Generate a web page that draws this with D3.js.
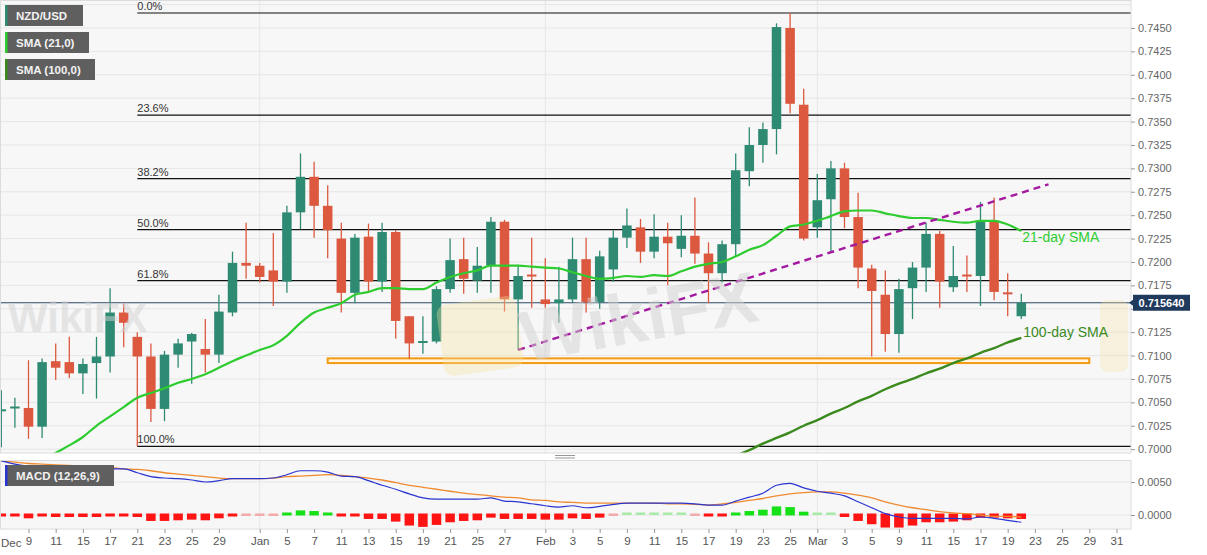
<!DOCTYPE html>
<html><head><meta charset="utf-8">
<script src="https://cdn.jsdelivr.net/npm/d3@7/dist/d3.min.js"></script>
<style>
html,body{margin:0;padding:0;background:#fff;}
svg{display:block;font-family:"Liberation Sans",Arial,sans-serif;}
</style></head><body>
<svg id="chart" width="1207" height="555"></svg>
<script>
// ---------- DATA ----------
// trading days shown on the time axis (Mon-Fri)
const dates = ["2020-12-07","2020-12-08","2020-12-09","2020-12-10","2020-12-11","2020-12-14","2020-12-15","2020-12-16","2020-12-17","2020-12-18","2020-12-21","2020-12-22","2020-12-23","2020-12-24","2020-12-25","2020-12-28","2020-12-29","2020-12-30","2020-12-31",
"2021-01-01","2021-01-04","2021-01-05","2021-01-06","2021-01-07","2021-01-08","2021-01-11","2021-01-12","2021-01-13","2021-01-14","2021-01-15","2021-01-18","2021-01-19","2021-01-20","2021-01-21","2021-01-22","2021-01-25","2021-01-26","2021-01-27","2021-01-28","2021-01-29",
"2021-02-01","2021-02-02","2021-02-03","2021-02-04","2021-02-05","2021-02-08","2021-02-09","2021-02-10","2021-02-11","2021-02-12","2021-02-15","2021-02-16","2021-02-17","2021-02-18","2021-02-19","2021-02-22","2021-02-23","2021-02-24","2021-02-25","2021-02-26",
"2021-03-01","2021-03-02","2021-03-03","2021-03-04","2021-03-05","2021-03-08","2021-03-09","2021-03-10","2021-03-11","2021-03-12","2021-03-15","2021-03-16","2021-03-17","2021-03-18","2021-03-19","2021-03-22","2021-03-23","2021-03-24","2021-03-25","2021-03-26","2021-03-29","2021-03-30","2021-03-31"];

// daily candles, 2020-12-07 .. 2021-03-22
const open = [0.7041,0.7044,0.7044,0.7024,0.7094,0.7093,0.7081,0.7092,0.7099,0.7146,
0.7120,0.7099,0.7043,0.7101,0.7115,0.7107,0.7101,0.7146,0.7199,0.7196,
0.7191,0.7179,0.7253,0.7291,0.7260,0.7225,0.7167,0.7227,0.7179,0.7232,
0.7142,0.7114,0.7115,0.7171,0.7203,0.7180,0.7196,0.7243,0.7160,0.7186,
0.7160,0.7156,0.7160,0.7203,0.7157,0.7192,0.7226,0.7237,0.7211,0.7227,
0.7214,0.7228,0.7209,0.7188,0.7219,0.7297,0.7325,0.7342,0.7450,0.7368,
0.7237,0.7267,0.7300,0.7248,0.7193,0.7165,0.7123,0.7172,0.7194,0.7230,
0.7173,0.7186,0.7185,0.7244,0.7167,0.7142];
const high = [0.7063,0.7055,0.7095,0.7097,0.7113,0.7120,0.7097,0.7120,0.7172,0.7156,
0.7125,0.7113,0.7105,0.7118,0.7124,0.7139,0.7165,0.7211,0.7242,0.7199,
0.7231,0.7260,0.7316,0.7307,0.7282,0.7242,0.7230,0.7241,0.7242,0.7234,
0.7142,0.7142,0.7174,0.7225,0.7226,0.7216,0.7248,0.7245,0.7197,0.7226,
0.7204,0.7195,0.7226,0.7226,0.7212,0.7234,0.7257,0.7246,0.7251,0.7242,
0.7250,0.7269,0.7221,0.7223,0.7316,0.7344,0.7349,0.7455,0.7466,0.7385,
0.7294,0.7308,0.7306,0.7274,0.7197,0.7191,0.7182,0.7200,0.7242,0.7233,
0.7217,0.7207,0.7264,0.7269,0.7188,0.7166];
const low = [0.7002,0.7023,0.7011,0.7012,0.7074,0.7076,0.7059,0.7054,0.7082,0.7109,
0.7003,0.7029,0.7030,0.7087,0.7070,0.7082,0.7092,0.7142,0.7182,0.7178,
0.7153,0.7167,0.7235,0.7226,0.7204,0.7146,0.7156,0.7167,0.7168,0.7118,
0.7097,0.7102,0.7113,0.7167,0.7166,0.7167,0.7167,0.7147,0.7106,0.7151,
0.7151,0.7135,0.7156,0.7146,0.7150,0.7179,0.7215,0.7199,0.7204,0.7175,
0.7205,0.7198,0.7156,0.7178,0.7205,0.7281,0.7306,0.7315,0.7359,0.7223,
0.7226,0.7210,0.7236,0.7172,0.7099,0.7104,0.7103,0.7139,0.7168,0.7151,
0.7168,0.7168,0.7153,0.7159,0.7142,0.7139];
const close = [0.7042,0.7045,0.7024,0.7093,0.7087,0.7081,0.7091,0.7099,0.7146,0.7135,
0.7099,0.7043,0.7101,0.7113,0.7123,0.7101,0.7147,0.7199,0.7196,0.7184,
0.7179,0.7253,0.7291,0.7260,0.7234,0.7167,0.7226,0.7179,0.7232,0.7137,
0.7113,0.7115,0.7171,0.7202,0.7182,0.7196,0.7243,0.7160,0.7185,0.7185,
0.7155,0.7160,0.7203,0.7157,0.7206,0.7226,0.7239,0.7211,0.7227,0.7220,
0.7228,0.7209,0.7188,0.7219,0.7298,0.7325,0.7342,0.7451,0.7369,0.7225,
0.7266,0.7300,0.7248,0.7194,0.7169,0.7123,0.7171,0.7194,0.7230,0.7179,
0.7185,0.7185,0.7243,0.7168,0.7166,0.71564];

// SMA(21), same days as the candles
const sma21 = [0.6966,0.6973,0.6980,0.6987,0.6996,0.7004,0.7013,0.7025,0.7035,0.7045,
0.7055,0.7060,0.7065,0.7071,0.7075,0.7080,0.7087,0.7094,0.7100,0.7106,
0.7111,0.7121,0.7135,0.7146,0.7151,0.7156,0.7165,0.7168,0.7172,0.7172,
0.7171,0.7171,0.7178,0.7184,0.7188,0.7191,0.7196,0.7196,0.7196,0.7195,
0.7194,0.7193,0.7189,0.7185,0.7182,0.7183,0.7185,0.7184,0.7186,0.7185,
0.7190,0.7195,0.7198,0.7200,0.7206,0.7213,0.7218,0.7228,0.7238,0.7240,
0.7244,0.7249,0.7254,0.7255,0.7255,0.7252,0.7249,0.7247,0.7247,0.7245,
0.7243,0.7242,0.7244,0.7244,0.7240,0.7233];
// SMA(100), visible part, from 2021-02-19 .. 2021-03-22
const sma100Start = "2021-02-19";
const sma100 = [0.6993,0.6999,0.7006,0.7012,0.7018,0.7025,0.7031,0.7038,0.7044,0.7051,0.7057,
0.7064,0.7070,0.7075,0.7081,0.7086,0.7092,0.7097,0.7103,0.7108,0.7114,0.7119];

// MACD(12,26,9), same days as the candles
const macd = [0.0082,0.0077,0.0074,0.0073,0.0073,0.0071,0.0071,0.0071,0.0070,0.0070,
0.0064,0.0058,0.0056,0.0055,0.0053,0.0050,0.0052,0.0055,0.0055,0.0055,
0.0056,0.0061,0.0067,0.0067,0.0065,0.0059,0.0058,0.0052,0.0045,0.0039,
0.0032,0.0026,0.0024,0.0024,0.0024,0.0024,0.0026,0.0021,0.0020,0.0017,
0.0014,0.0012,0.0014,0.0011,0.0013,0.0016,0.0018,0.0018,0.0018,0.0018,
0.0018,0.0017,0.0015,0.0015,0.0021,0.0027,0.0033,0.0045,0.0048,0.0041,
0.0036,0.0033,0.0029,0.0020,0.0011,0.0002,-0.0003,-0.0005,-0.0005,-0.0005,
-0.0005,-0.0006,-0.0003,-0.0005,-0.0008,-0.0011];
const signal = [0.0082,0.0080,0.0078,0.0077,0.0076,0.0075,0.0074,0.0073,0.0072,0.0070,
0.0069,0.0067,0.0064,0.0062,0.0060,0.0058,0.0056,0.0055,0.0055,0.0055,
0.0056,0.0058,0.0059,0.0060,0.0061,0.0060,0.0058,0.0056,0.0053,0.0049,
0.0045,0.0042,0.0039,0.0036,0.0033,0.0031,0.0029,0.0027,0.0026,0.0023,
0.0022,0.0020,0.0019,0.0018,0.0018,0.0018,0.0018,0.0018,0.0018,0.0017,
0.0017,0.0016,0.0015,0.0017,0.0019,0.0022,0.0025,0.0029,0.0032,0.0034,
0.0035,0.0035,0.0033,0.0030,0.0026,0.0020,0.0015,0.0011,0.0008,0.0005,
0.0003,0.0002,0.0000,-0.0002,-0.0002,-0.0003];
const hist = [-0.0001,-0.0002,-0.0005,-0.0002,-0.0003,-0.0003,-0.0003,-0.0003,-0.0001,-0.0001,
-0.0003,-0.0009,-0.0009,-0.0008,-0.0007,-0.0008,-0.0005,-0.0002,-0.00005,-0.00005,
-0.00005,0.0001,0.0007,0.0006,0.0002,-0.0002,-0.0002,-0.0006,-0.0006,-0.0010,
-0.0016,-0.0018,-0.0015,-0.0011,-0.0009,-0.0008,-0.0004,-0.0006,-0.0006,-0.0006,
-0.0007,-0.0007,-0.0005,-0.0006,-0.0004,-0.00005,0.00005,0.00005,0.00005,0.00005,
0.00005,-0.00005,-0.0002,-0.0002,0.0003,0.0006,0.0008,0.0013,0.0012,0.0005,
0.00005,0.00005,-0.0003,-0.0009,-0.0014,-0.0019,-0.0019,-0.0016,-0.0011,-0.0011,
-0.0010,-0.0008,-0.0004,-0.0004,-0.0005,-0.0006];

// Fibonacci retracement (swing low 2020-12-21 -> swing high 2021-02-25)
const fibStartDate = "2020-12-21";
const fibLabels = ["0.0%","23.6%","38.2%","50.0%","61.8%","100.0%"];
const fibValues = [0.7466,0.7357,0.7289,0.72345,0.7180,0.7003];

// annotations
const trendDates = ["2021-01-28","2021-03-24"];
const trendValues = [0.7106,0.7283];
const zoneDates = ["2021-01-08","2021-03-29"];
const zoneValues = [0.7092,0.7097];
const lastPrice = 0.715640;

// axes
const priceTicks = [0.7000,0.7025,0.7050,0.7075,0.7100,0.7125,0.7150,0.7175,0.7200,0.7225,0.7250,0.7275,0.7300,0.7325,0.7350,0.7375,0.7400,0.7425,0.7450];
const macdTicks = [0.0000,0.0050];
const tickDates = ["2020-12-09","2020-12-11","2020-12-15","2020-12-17","2020-12-21","2020-12-23","2020-12-25","2020-12-29","2021-01-01","2021-01-05","2021-01-07","2021-01-11","2021-01-13","2021-01-15","2021-01-19","2021-01-21","2021-01-25","2021-01-27","2021-02-01","2021-02-03","2021-02-05","2021-02-09","2021-02-11","2021-02-15","2021-02-17","2021-02-19","2021-02-23","2021-02-25","2021-03-01","2021-03-03","2021-03-05","2021-03-09","2021-03-11","2021-03-15","2021-03-17","2021-03-19","2021-03-23","2021-03-25","2021-03-29","2021-03-31"];
const tickLabels = ["9","11","15","17","21","23","25","29","Jan","5","7","11","13","15","19","21","25","27","Feb","3","5","9","11","15","17","19","23","25","Mar","3","5","9","11","15","17","19","23","25","29","31"];
const monthStarts = ["2021-01-01","2021-02-01","2021-03-01"];
const firstMonthLabel = "Dec";
const legendLabels = ["NZD/USD","SMA (21,0)","SMA (100,0)"];
const macdLabel = "MACD (12,26,9)";
const smaTags = ["21-day SMA","100-day SMA"];
const watermark = "WikiFX";

// ---------- LAYOUT ----------
const plotR = 1131, mainT = 0, mainB = 453, macdT = 460, macdB = 529;
const C = {bg:"#f7f7f7", grid:"#e6e6e6", up:"#2f8a74", down:"#dc5940", sma21:"#2fcc2f", sma100:"#3b8a1e",
  fib:"#111", trend:"#a3199f", zone:"#f39a12", price:"#2b4766", macd:"#2a35d0", sig:"#f08a30",
  hUp:"#16e016", hDn:"#ff1414", hUpPale:"#a8eaa8", hDnPale:"#f3aaaa", axis:"#666"};

const svg = d3.select("#chart");
const pos = d => dates.indexOf(d);
const x = d3.scaleLinear().domain([-0.0956, 83.066]).range([0, plotR]);
const yP = d3.scaleLinear().domain([0.69959, 0.74799]).range([mainB, mainT]);
const yM = d3.scaleLinear().domain([-0.00212, 0.00833]).range([macdB, macdT]);

const defs = svg.append("defs");
defs.append("clipPath").attr("id","clipMain").append("rect").attr("x",0).attr("y",mainT).attr("width",plotR).attr("height",mainB-mainT);
defs.append("clipPath").attr("id","clipMacd").append("rect").attr("x",0).attr("y",macdT).attr("width",plotR).attr("height",macdB-macdT);

// backgrounds
svg.append("rect").attr("x",0).attr("y",mainT).attr("width",plotR).attr("height",mainB-mainT).attr("fill",C.bg);
svg.append("rect").attr("x",0).attr("y",macdT).attr("width",plotR).attr("height",macdB-macdT).attr("fill",C.bg);

// grid
const gMain = svg.append("g").attr("clip-path","url(#clipMain)");
gMain.selectAll("line.hg").data(priceTicks.concat([0.7475])).join("line")
  .attr("x1",0).attr("x2",plotR).attr("y1",d=>yP(d)).attr("y2",d=>yP(d)).attr("stroke",C.grid).attr("stroke-width",1);
gMain.selectAll("line.vg").data(monthStarts).join("line")
  .attr("x1",d=>x(pos(d))).attr("x2",d=>x(pos(d))).attr("y1",mainT).attr("y2",mainB).attr("stroke",C.grid);

// watermarks (faint)
const wm = svg.append("g");
wm.append("rect").attr("x",440).attr("y",300).attr("width",80).attr("height",72).attr("rx",10)
  .attr("fill","#f6e2a0").attr("opacity",0.35).attr("transform","rotate(-8,480,336)");
wm.append("rect").attr("x",1100).attr("y",300).attr("width",28).attr("height",72).attr("rx",8)
  .attr("fill","#f6e2a0").attr("opacity",0.3);
wm.append("text").attr("x",525).attr("y",362).attr("font-size",72).attr("font-weight","bold")
  .attr("fill","#d2d2d2").attr("opacity",0.5).attr("transform","rotate(-10,525,362)").text(watermark);
wm.append("text").attr("x",8).attr("y",332).attr("font-size",42).attr("font-weight","bold")
  .attr("fill","#d2d2d2").attr("opacity",0.5).text(watermark);

// orange support zone
gMain.append("rect")
  .attr("x",x(pos(zoneDates[0]))).attr("y",yP(zoneValues[1]))
  .attr("width",x(pos(zoneDates[1]))-x(pos(zoneDates[0]))).attr("height",yP(zoneValues[0])-yP(zoneValues[1]))
  .attr("fill","#fff6e6").attr("stroke",C.zone).attr("stroke-width",2);

// Fibonacci lines
const fx0 = x(pos(fibStartDate));
gMain.selectAll("line.fib").data(fibValues).join("line")
  .attr("x1",fx0).attr("x2",plotR).attr("y1",d=>yP(d)).attr("y2",d=>yP(d)).attr("stroke",C.fib).attr("stroke-width",1.2);
gMain.selectAll("text.fib").data(fibValues).join("text")
  .attr("x",fx0).attr("y",d=>yP(d)-3).attr("font-size",11).attr("fill","#333").text((d,i)=>fibLabels[i]);

// current price line
gMain.append("line").attr("x1",0).attr("x2",plotR).attr("y1",yP(lastPrice)).attr("y2",yP(lastPrice))
  .attr("stroke",C.price).attr("stroke-width",1);

// candles
const cData = open.map((o,i)=>({p:i, o, h:high[i], l:low[i], c:close[i]}));
const bw = 9.5;
const cg = gMain.append("g");
cg.selectAll("line.w").data(cData).join("line")
  .attr("x1",d=>x(d.p)).attr("x2",d=>x(d.p)).attr("y1",d=>yP(d.h)).attr("y2",d=>yP(d.l))
  .attr("stroke",d=>d.c>=d.o?C.up:C.down).attr("stroke-width",1.3);
cg.selectAll("rect.b").data(cData).join("rect")
  .attr("x",d=>x(d.p)-bw/2).attr("width",bw)
  .attr("y",d=>{const t=yP(Math.max(d.o,d.c)), b=yP(Math.min(d.o,d.c)); return b-t<2 ? (t+b)/2-1 : t;})
  .attr("height",d=>Math.max(2, yP(Math.min(d.o,d.c))-yP(Math.max(d.o,d.c))))
  .attr("fill",d=>d.c>=d.o?C.up:C.down);

// SMAs
const line21 = d3.line().x((d,i)=>x(i)).y(d=>yP(d)).curve(d3.curveMonotoneX);
gMain.append("path").datum(sma21).attr("d",line21).attr("fill","none").attr("stroke",C.sma21).attr("stroke-width",2.2);
const s100Pos = pos(sma100Start);
const line100 = d3.line().x((d,i)=>x(s100Pos+i)).y(d=>yP(d)).curve(d3.curveMonotoneX);
gMain.append("path").datum(sma100).attr("d",line100).attr("fill","none").attr("stroke",C.sma100).attr("stroke-width",2.4);

// trend line
gMain.append("line")
  .attr("x1",x(pos(trendDates[0]))).attr("y1",yP(trendValues[0]))
  .attr("x2",x(pos(trendDates[1]))).attr("y2",yP(trendValues[1]))
  .attr("stroke",C.trend).attr("stroke-width",2.4).attr("stroke-dasharray","7,5");

// SMA tags
const lastIdx = open.length-1;
svg.append("text").attr("x",x(lastIdx)+1).attr("y",yP(sma21[lastIdx])+11).attr("font-size",14)
  .attr("fill",C.sma21).text(smaTags[0]);
svg.append("text").attr("x",x(lastIdx)+2).attr("y",yP(sma100[sma100.length-1])-1).attr("font-size",14)
  .attr("fill",C.sma100).text(smaTags[1]);

// main panel border
svg.append("rect").attr("x",0.5).attr("y",0.5).attr("width",plotR-0.5).attr("height",mainB-0.5)
  .attr("fill","none").attr("stroke","#dcdcdc");

// right price axis (the label under the last-price tag is hidden, as in the source)
const ly = yP(lastPrice);
const axP = svg.append("g").attr("transform",`translate(${plotR},0)`)
  .call(d3.axisRight(yP).tickValues(priceTicks)
    .tickFormat(d => Math.abs(yP(d)-ly) < 10 ? "" : d3.format(".4f")(d)).tickSize(4).tickPadding(3));
axP.select(".domain").remove();
axP.selectAll("line").attr("stroke","#999");
axP.selectAll("text").attr("fill",C.axis).attr("font-size",11).attr("font-family","Liberation Sans, Arial, sans-serif");

// last price tag
svg.append("path").attr("d",`M${plotR+2},${ly-8} L${plotR+59},${ly-8} L${plotR+59},${ly+8} L${plotR+2},${ly+8} L${plotR+2},${ly+3} L${plotR-2},${ly} L${plotR+2},${ly-3} Z`)
  .attr("fill","#1f3a5c");
svg.append("text").attr("x",plotR+30.5).attr("y",ly+4).attr("text-anchor","middle").attr("font-size",11)
  .attr("font-weight","bold").attr("fill","#fff").text(lastPrice.toFixed(6));

// legend boxes
const legColors = [C.up, C.sma21, C.sma100];
const legW = [78,84,90];
legendLabels.forEach((t,i)=>{
  const yy = 5 + i*27;
  svg.append("rect").attr("x",5).attr("y",yy).attr("width",legW[i]).attr("height",21).attr("fill","#5f5f5f");
  svg.append("rect").attr("x",5).attr("y",yy).attr("width",2.5).attr("height",21).attr("fill",legColors[i]);
  svg.append("text").attr("x",16).attr("y",yy+15).attr("font-size",11.5).attr("font-weight","bold").attr("fill","#f2f2f2").text(t);
});

// splitter handle
svg.append("line").attr("x1",555).attr("x2",575).attr("y1",455.5).attr("y2",455.5).attr("stroke","#999");
svg.append("line").attr("x1",555).attr("x2",575).attr("y1",458).attr("y2",458).attr("stroke","#999");

// ---------- MACD panel ----------
const gM = svg.append("g").attr("clip-path","url(#clipMacd)");
gM.selectAll("line.hg").data(macdTicks).join("line")
  .attr("x1",0).attr("x2",plotR).attr("y1",d=>yM(d)).attr("y2",d=>yM(d)).attr("stroke",C.grid);
gM.selectAll("line.vg").data(monthStarts).join("line")
  .attr("x1",d=>x(pos(d))).attr("x2",d=>x(pos(d))).attr("y1",macdT).attr("y2",macdB).attr("stroke",C.grid);
const y0 = yM(0);
gM.selectAll("rect.h").data(hist).join("rect")
  .attr("x",(d,i)=>x(i)-bw/2).attr("width",bw)
  .attr("y",d=>{ if(d<0) return y0-1.5; const yv=yM(d); return Math.min(yv, y0-2.5); })
  .attr("height",d=>{ const pale=Math.abs(d)<0.0001; if(d<0) return Math.max(pale?2.5:3, yM(d)-y0+1.5); const yv=yM(d); return Math.max(pale?2.5:3, y0+0.5-yv); })
  .attr("fill",d=>{ const pale=Math.abs(d)<0.0001; return d>=0 ? (pale?C.hUpPale:C.hUp) : (pale?C.hDnPale:C.hDn); });
const lm = d3.line().x((d,i)=>x(i)).y(d=>yM(d)).curve(d3.curveMonotoneX);
gM.append("path").datum(signal).attr("d",lm).attr("fill","none").attr("stroke",C.sig).attr("stroke-width",1.3);
gM.append("path").datum(macd).attr("d",lm).attr("fill","none").attr("stroke",C.macd).attr("stroke-width",1.2);
svg.append("rect").attr("x",0.5).attr("y",macdT+0.5).attr("width",plotR-0.5).attr("height",macdB-macdT-0.5)
  .attr("fill","none").attr("stroke","#dcdcdc");

// MACD legend
svg.append("rect").attr("x",5).attr("y",465).attr("width",109).attr("height",21).attr("fill","#5f5f5f");
svg.append("rect").attr("x",5).attr("y",465).attr("width",2.5).attr("height",21).attr("fill",C.macd);
svg.append("text").attr("x",16).attr("y",480).attr("font-size",11.5).attr("font-weight","bold").attr("fill","#f2f2f2").text(macdLabel);

// MACD axis
const axM = svg.append("g").attr("transform",`translate(${plotR},0)`)
  .call(d3.axisRight(yM).tickValues(macdTicks).tickFormat(d3.format(".4f")).tickSize(4).tickPadding(3));
axM.select(".domain").remove();
axM.selectAll("line").attr("stroke","#999");
axM.selectAll("text").attr("fill",C.axis).attr("font-size",11).attr("font-family","Liberation Sans, Arial, sans-serif");

// time axis
const axT = svg.append("g").attr("transform",`translate(0,${macdB})`)
  .call(d3.axisBottom(x).tickValues(tickDates.map(pos)).tickFormat((d,i)=>tickLabels[i]).tickSize(4).tickPadding(4));
axT.select(".domain").remove();
axT.selectAll("line").attr("stroke","#999");
axT.selectAll("text").attr("fill","#555").attr("font-size",11.5).attr("font-family","Liberation Sans, Arial, sans-serif");
svg.append("text").attr("x",1).attr("y",macdB+18).attr("font-size",11.5).attr("fill","#555").text(firstMonthLabel);
</script>
</body></html>
